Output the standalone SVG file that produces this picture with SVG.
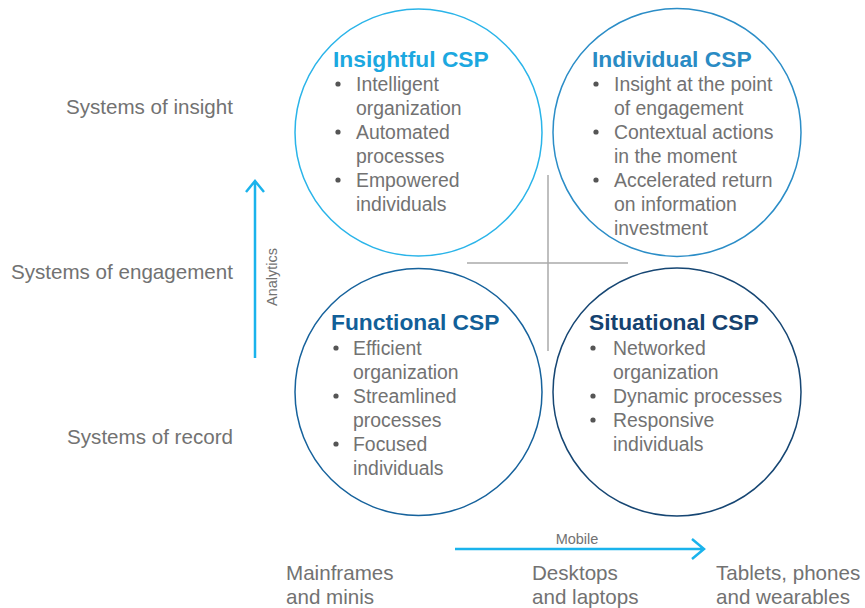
<svg xmlns="http://www.w3.org/2000/svg" width="865" height="608" viewBox="0 0 865 608">
<style>
.t{font-family:"Liberation Sans",Arial,sans-serif;fill:#727272}
.b{font-size:19.4px}
.h{font-family:"Liberation Sans",Arial,sans-serif;font-weight:bold;font-size:22.8px}
.lab{font-size:20.6px}
.dot{fill:#555}
.ax{stroke:#1ab3ec;stroke-width:2.5;fill:none}
</style>
<rect width="865" height="608" fill="#fff"/>
<g id="connectors">
<line x1="467" y1="263" x2="628" y2="263" stroke="#aaa" stroke-width="1.5"/>
<line x1="548" y1="175" x2="548" y2="351" stroke="#aaa" stroke-width="1.5"/>
<path class="ax" d="M255 358 V181 M246 192 L255 181 L264 192"/>
<path class="ax" d="M455 549 H704 M692 539 L704 549 L692 559"/>
<text class="t" x="0" y="0" font-size="14.5" text-anchor="middle" transform="translate(277 277) rotate(-90)">Analytics</text>
<text class="t" x="577" y="544" font-size="14.5" text-anchor="middle">Mobile</text>
</g>
<g id="labels" class="t lab">
<text x="233" y="114" text-anchor="end">Systems of insight</text>
<text x="233" y="279" text-anchor="end">Systems of engagement</text>
<text x="233" y="444" text-anchor="end">Systems of record</text>
<text x="286" y="580">Mainframes</text>
<text x="286" y="604">and minis</text>
<text x="532" y="580">Desktops</text>
<text x="532" y="604">and laptops</text>
<text x="716" y="580">Tablets, phones</text>
<text x="716" y="604">and wearables</text>
</g>
<g id="insightful">
<circle cx="418.5" cy="132.5" r="123.5" fill="none" stroke="#2ab4e9" stroke-width="1.5"/>
<text class="h" x="333" y="67" fill="#1ca8e0">Insightful CSP</text>
<g class="dot"><circle cx="338" cy="84" r="2.6"/><circle cx="338" cy="132" r="2.6"/><circle cx="338" cy="180" r="2.6"/></g>
<g class="t b">
<text x="356" y="91">Intelligent</text><text x="356" y="115">organization</text>
<text x="356" y="139">Automated</text><text x="356" y="163">processes</text>
<text x="356" y="187">Empowered</text><text x="356" y="211">individuals</text>
</g>
</g>
<g id="individual">
<circle cx="677" cy="132.5" r="124" fill="none" stroke="#2b8dc7" stroke-width="1.5"/>
<text class="h" x="592" y="67" fill="#2a8bc4">Individual CSP</text>
<g class="dot"><circle cx="596" cy="84" r="2.6"/><circle cx="596" cy="132" r="2.6"/><circle cx="596" cy="180" r="2.6"/></g>
<g class="t b">
<text x="614" y="91">Insight at the point</text><text x="614" y="115">of engagement</text>
<text x="614" y="139">Contextual actions</text><text x="614" y="163">in the moment</text>
<text x="614" y="187">Accelerated return</text><text x="614" y="211">on information</text>
<text x="614" y="235">investment</text>
</g>
</g>
<g id="functional">
<circle cx="418.5" cy="392" r="123.5" fill="none" stroke="#16629c" stroke-width="1.5"/>
<text class="h" x="331" y="330" fill="#125f98">Functional CSP</text>
<g class="dot"><circle cx="336" cy="348" r="2.6"/><circle cx="336" cy="396" r="2.6"/><circle cx="336" cy="444" r="2.6"/></g>
<g class="t b">
<text x="353" y="355">Efficient</text><text x="353" y="379">organization</text>
<text x="353" y="403">Streamlined</text><text x="353" y="427">processes</text>
<text x="353" y="451">Focused</text><text x="353" y="475">individuals</text>
</g>
</g>
<g id="situational">
<circle cx="677" cy="392" r="124" fill="none" stroke="#164673" stroke-width="1.5"/>
<text class="h" x="589" y="330" fill="#15426f">Situational CSP</text>
<g class="dot"><circle cx="593" cy="348" r="2.6"/><circle cx="593" cy="396" r="2.6"/><circle cx="593" cy="420" r="2.6"/></g>
<g class="t b">
<text x="613" y="355">Networked</text><text x="613" y="379">organization</text>
<text x="613" y="403">Dynamic processes</text>
<text x="613" y="427">Responsive</text><text x="613" y="451">individuals</text>
</g>
</g>
</svg>
